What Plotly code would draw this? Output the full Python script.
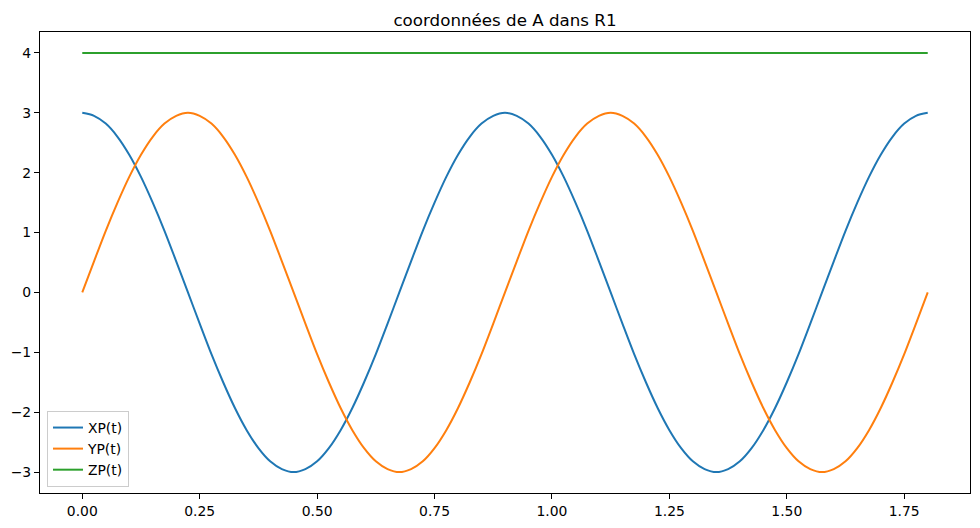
import plotly.graph_objects as go

t = [0.000, 0.025, 0.050, 0.075, 0.100, 0.125, 0.150, 0.175, 0.200, 0.225,
     0.250, 0.275, 0.300, 0.325, 0.350, 0.375, 0.400, 0.425, 0.450, 0.475,
     0.500, 0.525, 0.550, 0.575, 0.600, 0.625, 0.650, 0.675, 0.700, 0.725,
     0.750, 0.775, 0.800, 0.825, 0.850, 0.875, 0.900, 0.925, 0.950, 0.975,
     1.000, 1.025, 1.050, 1.075, 1.100, 1.125, 1.150, 1.175, 1.200, 1.225,
     1.250, 1.275, 1.300, 1.325, 1.350, 1.375, 1.400, 1.425, 1.450, 1.475,
     1.500, 1.525, 1.550, 1.575, 1.600, 1.625, 1.650, 1.675, 1.700, 1.725,
     1.750, 1.775, 1.800]

xp = [3.00, 2.95, 2.82, 2.60, 2.30, 1.93, 1.50, 1.03, 0.52, 0.00,
      -0.52, -1.03, -1.50, -1.93, -2.30, -2.60, -2.82, -2.95, -3.00, -2.95,
      -2.82, -2.60, -2.30, -1.93, -1.50, -1.03, -0.52, 0.00, 0.52, 1.03,
      1.50, 1.93, 2.30, 2.60, 2.82, 2.95, 3.00, 2.95, 2.82, 2.60,
      2.30, 1.93, 1.50, 1.03, 0.52, 0.00, -0.52, -1.03, -1.50, -1.93,
      -2.30, -2.60, -2.82, -2.95, -3.00, -2.95, -2.82, -2.60, -2.30, -1.93,
      -1.50, -1.03, -0.52, 0.00, 0.52, 1.03, 1.50, 1.93, 2.30, 2.60,
      2.82, 2.95, 3.00]

yp = [0.00, 0.52, 1.03, 1.50, 1.93, 2.30, 2.60, 2.82, 2.95, 3.00,
      2.95, 2.82, 2.60, 2.30, 1.93, 1.50, 1.03, 0.52, 0.00, -0.52,
      -1.03, -1.50, -1.93, -2.30, -2.60, -2.82, -2.95, -3.00, -2.95, -2.82,
      -2.60, -2.30, -1.93, -1.50, -1.03, -0.52, 0.00, 0.52, 1.03, 1.50,
      1.93, 2.30, 2.60, 2.82, 2.95, 3.00, 2.95, 2.82, 2.60, 2.30,
      1.93, 1.50, 1.03, 0.52, 0.00, -0.52, -1.03, -1.50, -1.93, -2.30,
      -2.60, -2.82, -2.95, -3.00, -2.95, -2.82, -2.60, -2.30, -1.93, -1.50,
      -1.03, -0.52, 0.00]

zp = [4.00] * len(t)

series_names = ["XP(t)", "YP(t)", "ZP(t)"]
series_colors = ["#1f77b4", "#ff7f0e", "#2ca02c"]

x_tick_vals = [0.00, 0.25, 0.50, 0.75, 1.00, 1.25, 1.50, 1.75]
x_tick_text = ["0.00", "0.25", "0.50", "0.75", "1.00", "1.25", "1.50", "1.75"]
y_tick_vals = [-3, -2, -1, 0, 1, 2, 3, 4]
y_tick_text = ["\u22123", "\u22122", "\u22121", "0", "1", "2", "3", "4"]

title_text = "coordonnées de A dans R1"

fig = go.Figure()
for name, vals, col in zip(series_names, [xp, yp, zp], series_colors):
    fig.add_trace(go.Scatter(x=t, y=vals, mode="lines", name=name,
                             line=dict(color=col, width=2, shape="spline", smoothing=0.8)))

axis_common = dict(showgrid=False, zeroline=False, showline=True, linecolor="black",
                   linewidth=1.1, mirror=True, ticks="outside", ticklen=5, tickwidth=1.1,
                   tickcolor="black", tickfont=dict(family="DejaVu Sans", size=13.9, color="black"))

# page body has an 8px margin, so the figure is 8px smaller and margins shifted
fig.update_layout(
    width=972, height=520,
    paper_bgcolor="white", plot_bgcolor="white",
    margin=dict(l=32, r=10, t=24, b=35, autoexpand=False),
    title=dict(text=title_text, x=(32 + 962) / 2 / 972, xanchor="center",
               y=1 - 12 / 520, yanchor="middle",
               font=dict(family="DejaVu Sans", size=16.7, color="black")),
    xaxis=dict(range=[-0.09, 1.89], tickvals=x_tick_vals, ticktext=x_tick_text, **axis_common),
    yaxis=dict(range=[-3.35, 4.35], tickvals=y_tick_vals, ticktext=y_tick_text, **axis_common),
    legend=dict(x=0.0075, y=0.013, xanchor="left", yanchor="bottom",
                bgcolor="rgba(255,255,255,0.8)", bordercolor="#cccccc", borderwidth=1,
                font=dict(family="DejaVu Sans", size=13.9, color="black"),
                tracegroupgap=0, itemwidth=30),
    showlegend=True,
)

fig.write_html("out.html")
